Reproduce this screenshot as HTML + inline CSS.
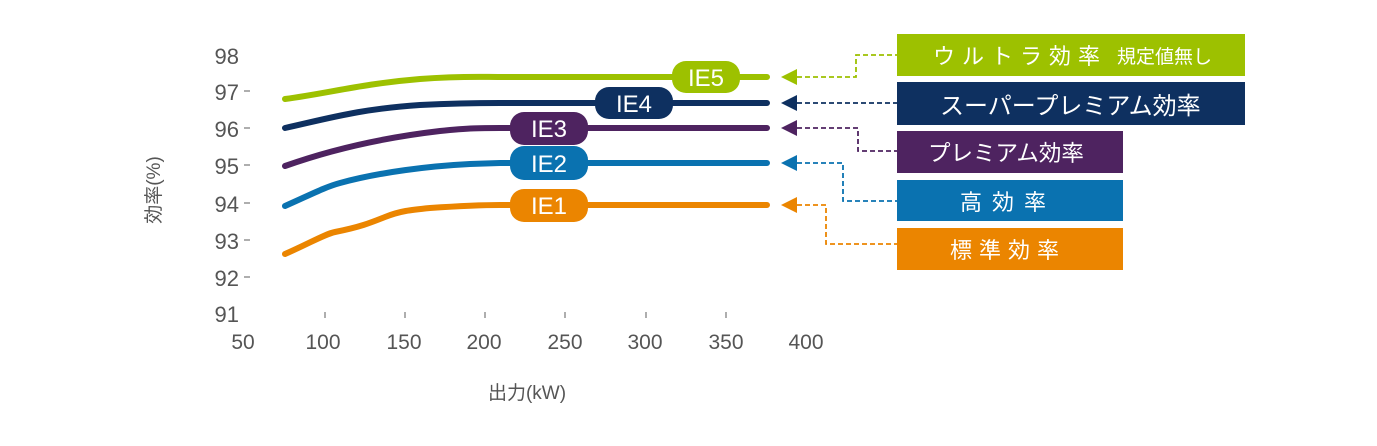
<!DOCTYPE html>
<html><head><meta charset="utf-8"><style>
body{margin:0;background:#fff;width:1377px;height:441px;overflow:hidden}
text{font-family:"Liberation Sans","Noto Sans CJK JP",sans-serif}
</style></head><body>
<svg width="1377" height="441" viewBox="0 0 1377 441" xmlns="http://www.w3.org/2000/svg">
<g fill="#555" font-size="22" text-anchor="end">
<text x="239" y="64">98</text><text x="239" y="100">97</text><text x="239" y="137">96</text><text x="239" y="174">95</text><text x="239" y="212">94</text><text x="239" y="249">93</text><text x="239" y="286">92</text><text x="239" y="322">91</text>
</g>
<g stroke="#777" stroke-width="1.2">
<line x1="244" y1="91" x2="250" y2="91"/><line x1="244" y1="128" x2="250" y2="128"/><line x1="244" y1="165" x2="250" y2="165"/><line x1="244" y1="203" x2="250" y2="203"/><line x1="244" y1="240" x2="250" y2="240"/><line x1="244" y1="277" x2="250" y2="277"/>
<line x1="325" y1="312" x2="325" y2="318"/><line x1="405" y1="312" x2="405" y2="318"/><line x1="485" y1="312" x2="485" y2="318"/><line x1="565" y1="312" x2="565" y2="318"/><line x1="646" y1="312" x2="646" y2="318"/><line x1="726" y1="312" x2="726" y2="318"/>
</g>
<g fill="#555" font-size="21" text-anchor="middle">
<text x="243" y="349">50</text><text x="323" y="349">100</text><text x="404" y="349">150</text><text x="484" y="349">200</text><text x="565" y="349">250</text><text x="645" y="349">300</text><text x="726" y="349">350</text><text x="806" y="349">400</text>
</g>
<text x="527" y="399" fill="#555" font-size="19" text-anchor="middle">出力(kW)</text>
<text transform="translate(160,190) rotate(-90)" fill="#555" font-size="19" text-anchor="middle">効率(%)</text>
<g fill="none" stroke-width="6" stroke-linecap="round">
<path d="M285,99 C330,93 360,84 420,79 C460,76 480,77 500,77 L767,77" stroke="#9dc100"/>
<path d="M285,128 C330,118 360,109 420,105 C460,103 480,103 500,103 L767,103" stroke="#0e3060"/>
<path d="M285,166 C330,150 380,138 440,131 C470,128 480,128 500,128 L767,128" stroke="#4e2360"/>
<path d="M285,206 C310,195 325,187 340,183 C380,172 430,166 470,164 L500,163 L767,163" stroke="#0a72b0"/>
<path d="M285,254 C310,243 325,234 335,232 C360,227 370,223 385,217 C400,211 410,210 430,208 C460,206 480,205 500,205 L767,205" stroke="#eb8500"/>
</g>
<g font-size="24" fill="#fff" text-anchor="middle">
<rect x="672" y="61" width="68" height="32" rx="14" fill="#9dc100"/><text x="706" y="86">IE5</text>
<rect x="595" y="87" width="78" height="32" rx="14" fill="#0e3060"/><text x="634" y="112">IE4</text>
<rect x="510" y="112" width="78" height="33" rx="14" fill="#4e2360"/><text x="549" y="137">IE3</text>
<rect x="510" y="146" width="78" height="34" rx="14" fill="#0a72b0"/><text x="549" y="172">IE2</text>
<rect x="510" y="189" width="78" height="33" rx="14" fill="#eb8500"/><text x="549" y="214">IE1</text>
</g>
<g fill="none" stroke-width="1.8" stroke-dasharray="5,3">
<path d="M797,77 H856 V55 H897" stroke="#9dc100"/>
<path d="M797,103 H897" stroke="#0e3060"/>
<path d="M797,128 H858 V151 H897" stroke="#4e2360"/>
<path d="M797,163 H843 V201 H897" stroke="#0a72b0"/>
<path d="M797,205 H826 V244 H897" stroke="#eb8500"/>
</g>
<polygon points="781,77 797,69 797,85" fill="#9dc100"/>
<polygon points="781,103 797,95 797,111" fill="#0e3060"/>
<polygon points="781,128 797,120 797,136" fill="#4e2360"/>
<polygon points="781,163 797,155 797,171" fill="#0a72b0"/>
<polygon points="781,205 797,197 797,213" fill="#eb8500"/>
<rect x="897" y="34" width="348" height="42" fill="#9dc100"/>
<rect x="897" y="82" width="348" height="43" fill="#0e3060"/>
<rect x="897" y="131" width="226" height="42" fill="#4e2360"/>
<rect x="897" y="180" width="226" height="41" fill="#0a72b0"/>
<rect x="897" y="228" width="226" height="42" fill="#eb8500"/>
<g fill="#fff" font-size="22">
<text x="933" y="64" letter-spacing="7">ウルトラ効率</text><text x="1117" y="63" font-size="19">規定値無し</text>
<text x="940" y="114" font-size="24">スーパープレミアム効率</text>
<text x="928" y="161" font-size="22.5">プレミアム効率</text>
<text x="960" y="210" letter-spacing="10">高効率</text>
<text x="950" y="258" letter-spacing="7">標準効率</text>
</g>
</svg>
</body></html>
